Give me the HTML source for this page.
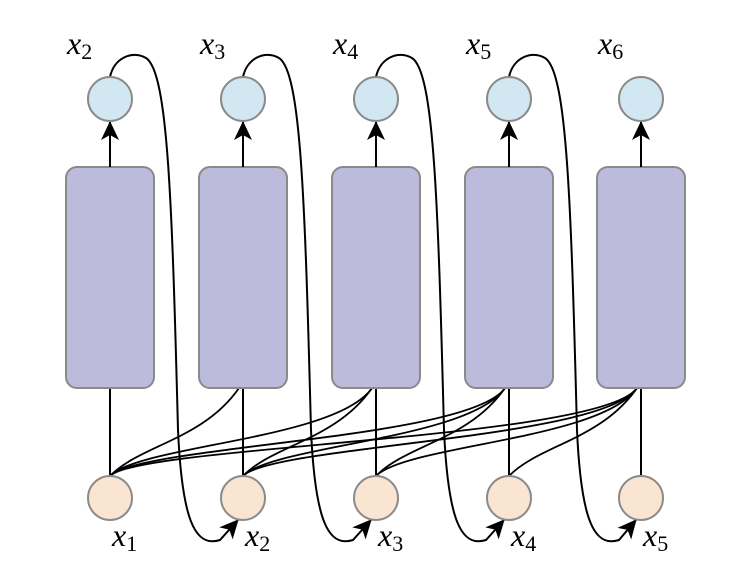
<!DOCTYPE html>
<html><head><meta charset="utf-8"><style>
html,body{margin:0;padding:0;background:#fff;width:742px;height:586px;overflow:hidden}
text{font-family:"Liberation Serif",serif;font-style:italic;fill:#000}
</style></head><body>
<svg id="s" width="742" height="586" xmlns="http://www.w3.org/2000/svg">
<defs>
<marker id="b" markerWidth="22" markerHeight="22" refX="18" refY="10" orient="auto" markerUnits="userSpaceOnUse"><path d="M0,1 L19,10 L0,19 L5,10 Z" fill="#000"/></marker></defs>
<g id="g"></g>
</svg>
<script>
const xs=[110,243,376,509,641];const g=document.getElementById('g');let h='';
for(let i=0;i<5;i++){for(let j=i;j<5;j++){
 const x0=xs[i],x1=xs[j];
 if(i==j){h+=`<line x1="${x0}" y1="476" x2="${x0}" y2="388" stroke="#000" stroke-width="2"/>`;}
 else{h+=`<path d="M${x0},476 C${x0+30},445 ${x1-40},440 ${x1-4},388" fill="none" stroke="#000" stroke-width="1.8"/>`;}
}}
for(const x of xs){h+=`<rect x="${x-44}" y="167" width="88" height="221" rx="11" fill="#bcbbdc" stroke="#8a8a8a" stroke-width="2"/>`;}
for(const x of xs){h+=`<line x1="${x}" y1="167" x2="${x}" y2="122" stroke="#000" stroke-width="2" marker-end="url(#b)"/>`;}
for(let i=0;i<4;i++){const x=xs[i],n=xs[i+1];
 h+=`<path d="M${x},77 C${x+4},58 ${x+22},50 ${x+36},58 C${x+58},72 ${x+62},200 ${x+68},430 C${x+72},520 ${x+85},548 ${x+110},540 L${n-5},520" fill="none" stroke="#000" stroke-width="2" marker-end="url(#b)"/>`;}
for(const x of xs){h+=`<circle cx="${x}" cy="99" r="22" fill="#d1e8f3" stroke="#8a8a8a" stroke-width="2"/>`;
 h+=`<circle cx="${x}" cy="498" r="22" fill="#fae5d3" stroke="#8a8a8a" stroke-width="2"/>`;}
for(let i=0;i<5;i++){const x=xs[i];
 h+=`<text x="${x-43}" y="54" font-size="32">x<tspan font-style="normal" font-size="22" dy="5">${i+2}</tspan></text>`;
 const bx=i==0?x+2:x+2;
 h+=`<text x="${bx}" y="546" font-size="32">x<tspan font-style="normal" font-size="22" dy="5">${i+1}</tspan></text>`;}
g.innerHTML=h;
</script>
</body></html>
